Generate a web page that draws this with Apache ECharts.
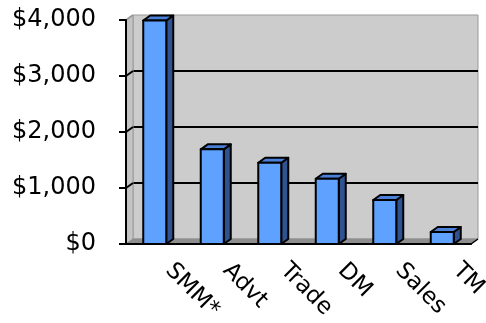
<!DOCTYPE html>
<html>
<head>
<meta charset="utf-8">
<style>
  html, body { margin: 0; padding: 0; background: #ffffff; }
  #chart { width: 486px; height: 323px; }
</style>
<script src="https://cdn.jsdelivr.net/npm/echarts@6/dist/echarts.min.js"></script>
</head>
<body>
<div id="chart"></div>
<script>
// ---- data ----
var categories = ['SMM*', 'Advt', 'Trade', 'DM', 'Sales', 'TM'];
var values = [3990, 1690, 1450, 1165, 785, 215];
var yTicks = [0, 1000, 2000, 3000, 4000];

// ---- style constants ----
var DX = 7, DY = 5;           // 3-D depth offset in pixels
var FONT = 'DejaVu Sans';
var yMin = yTicks[0], yMax = yTicks[yTicks.length - 1], yStep = yTicks[1] - yTicks[0];

var chart = echarts.init(document.getElementById('chart'), null, { renderer: 'canvas' });

function renderWalls(params, api) {
  var cs = params.coordSys;
  var x0 = cs.x, y0 = cs.y, w = cs.width, h = cs.height;
  var yb = y0 + h;
  var children = [];
  children.push({
    type: 'polygon',
    shape: { points: [[x0, yb], [x0, y0], [x0 + DX, y0 - DY], [x0 + DX, yb - DY]] },
    style: { fill: '#c4c4c4', stroke: '#9a9a9a', lineWidth: 1 }
  });
  children.push({
    type: 'polygon',
    shape: { points: [[x0, yb], [x0 + DX, yb - DY], [x0 + w + DX, yb - DY], [x0 + w, yb]] },
    style: { fill: '#8e8e8e', stroke: '#8e8e8e', lineWidth: 1 }
  });
  for (var i = 1; i < yTicks.length; i++) {
    var p = api.coord([0, yTicks[i]]);
    children.push({
      type: 'line',
      shape: { x1: x0, y1: p[1], x2: x0 + DX, y2: p[1] - DY },
      style: { stroke: i === yTicks.length - 1 ? '#9a9a9a' : '#000', lineWidth: 2 }
    });
  }
  children.push({
    type: 'line',
    shape: { x1: x0 + w, y1: yb, x2: x0 + w + DX, y2: yb - DY },
    style: { stroke: '#000', lineWidth: 1.5 }
  });
  return { type: 'group', children: children };
}

function renderBar(params, api) {
  var top = api.coord([api.value(0), api.value(1)]);
  var base = api.coord([api.value(0), 0]);
  var bw = api.size([1, 0])[0] * 0.4;
  var xl = top[0] - bw / 2, xr = top[0] + bw / 2;
  var yt = top[1], yb = base[1];
  var stroke = { stroke: '#000', lineWidth: 2, lineJoin: 'round' };
  return {
    type: 'group',
    children: [
      { type: 'polygon', shape: { points: [[xr, yt], [xr + DX, yt - DY], [xr + DX, yb - DY], [xr, yb]] },
        style: Object.assign({ fill: '#2f5290' }, stroke) },
      { type: 'polygon', shape: { points: [[xl, yt], [xl + DX, yt - DY], [xr + DX, yt - DY], [xr, yt]] },
        style: Object.assign({ fill: '#4a80d8' }, stroke) },
      { type: 'rect', shape: { x: xl, y: yt, width: bw, height: yb - yt },
        style: Object.assign({ fill: '#5ea1ff' }, stroke) }
    ]
  };
}

var option = {
  animation: false,
  backgroundColor: '#ffffff',
  grid: [
    { left: 126, right: 15, top: 20, bottom: 79, containLabel: false, outerBoundsMode: 'none' },
    { left: 126 + DX, right: 15 - DX, top: 20 - DY, bottom: 79 + DY, show: true, outerBoundsMode: 'none',
      backgroundColor: '#cccccc', borderColor: '#999999', borderWidth: 1, z: 0 }
  ],
  xAxis: [
    {
      type: 'category', gridIndex: 0, data: categories,
      axisLine: { lineStyle: { color: '#000', width: 2 } },
      axisTick: { length: 7, lineStyle: { color: '#000', width: 2 } },
      axisLabel: { rotate: -45, margin: 9, padding: [0, 0, 0, 20], color: '#000',
        fontFamily: FONT, fontSize: 23, interval: 0 },
      z: 5
    },
    { type: 'category', gridIndex: 1, data: categories, show: false }
  ],
  yAxis: [
    {
      type: 'value', gridIndex: 0, min: yMin, max: yMax, interval: yStep,
      axisLine: { show: true, lineStyle: { color: '#000', width: 2 } },
      axisTick: { show: true, length: 7, lineStyle: { color: '#000', width: 2 } },
      splitLine: { show: false },
      axisLabel: { margin: 30, padding: [5, 0, 0, 0], color: '#000', fontFamily: FONT, fontSize: 24,
        formatter: function (v) { return '$' + v.toLocaleString('en-US'); } },
      z: 5
    },
    {
      type: 'value', gridIndex: 1, min: yMin, max: yMax, interval: yStep,
      axisLine: { show: false }, axisTick: { show: false }, axisLabel: { show: false },
      splitLine: { show: true, showMinLine: false, showMaxLine: false, lineStyle: { color: '#000', width: 2 } }
    }
  ],
  series: [
    { type: 'custom', xAxisIndex: 0, yAxisIndex: 0, data: [[0]], renderItem: renderWalls, z: 1, silent: true },
    { type: 'custom', xAxisIndex: 0, yAxisIndex: 0,
      data: categories.map(function (c, i) { return [i, values[i]]; }),
      renderItem: renderBar, z: 3 }
  ]
};
chart.setOption(option);
</script>
</body>
</html>
